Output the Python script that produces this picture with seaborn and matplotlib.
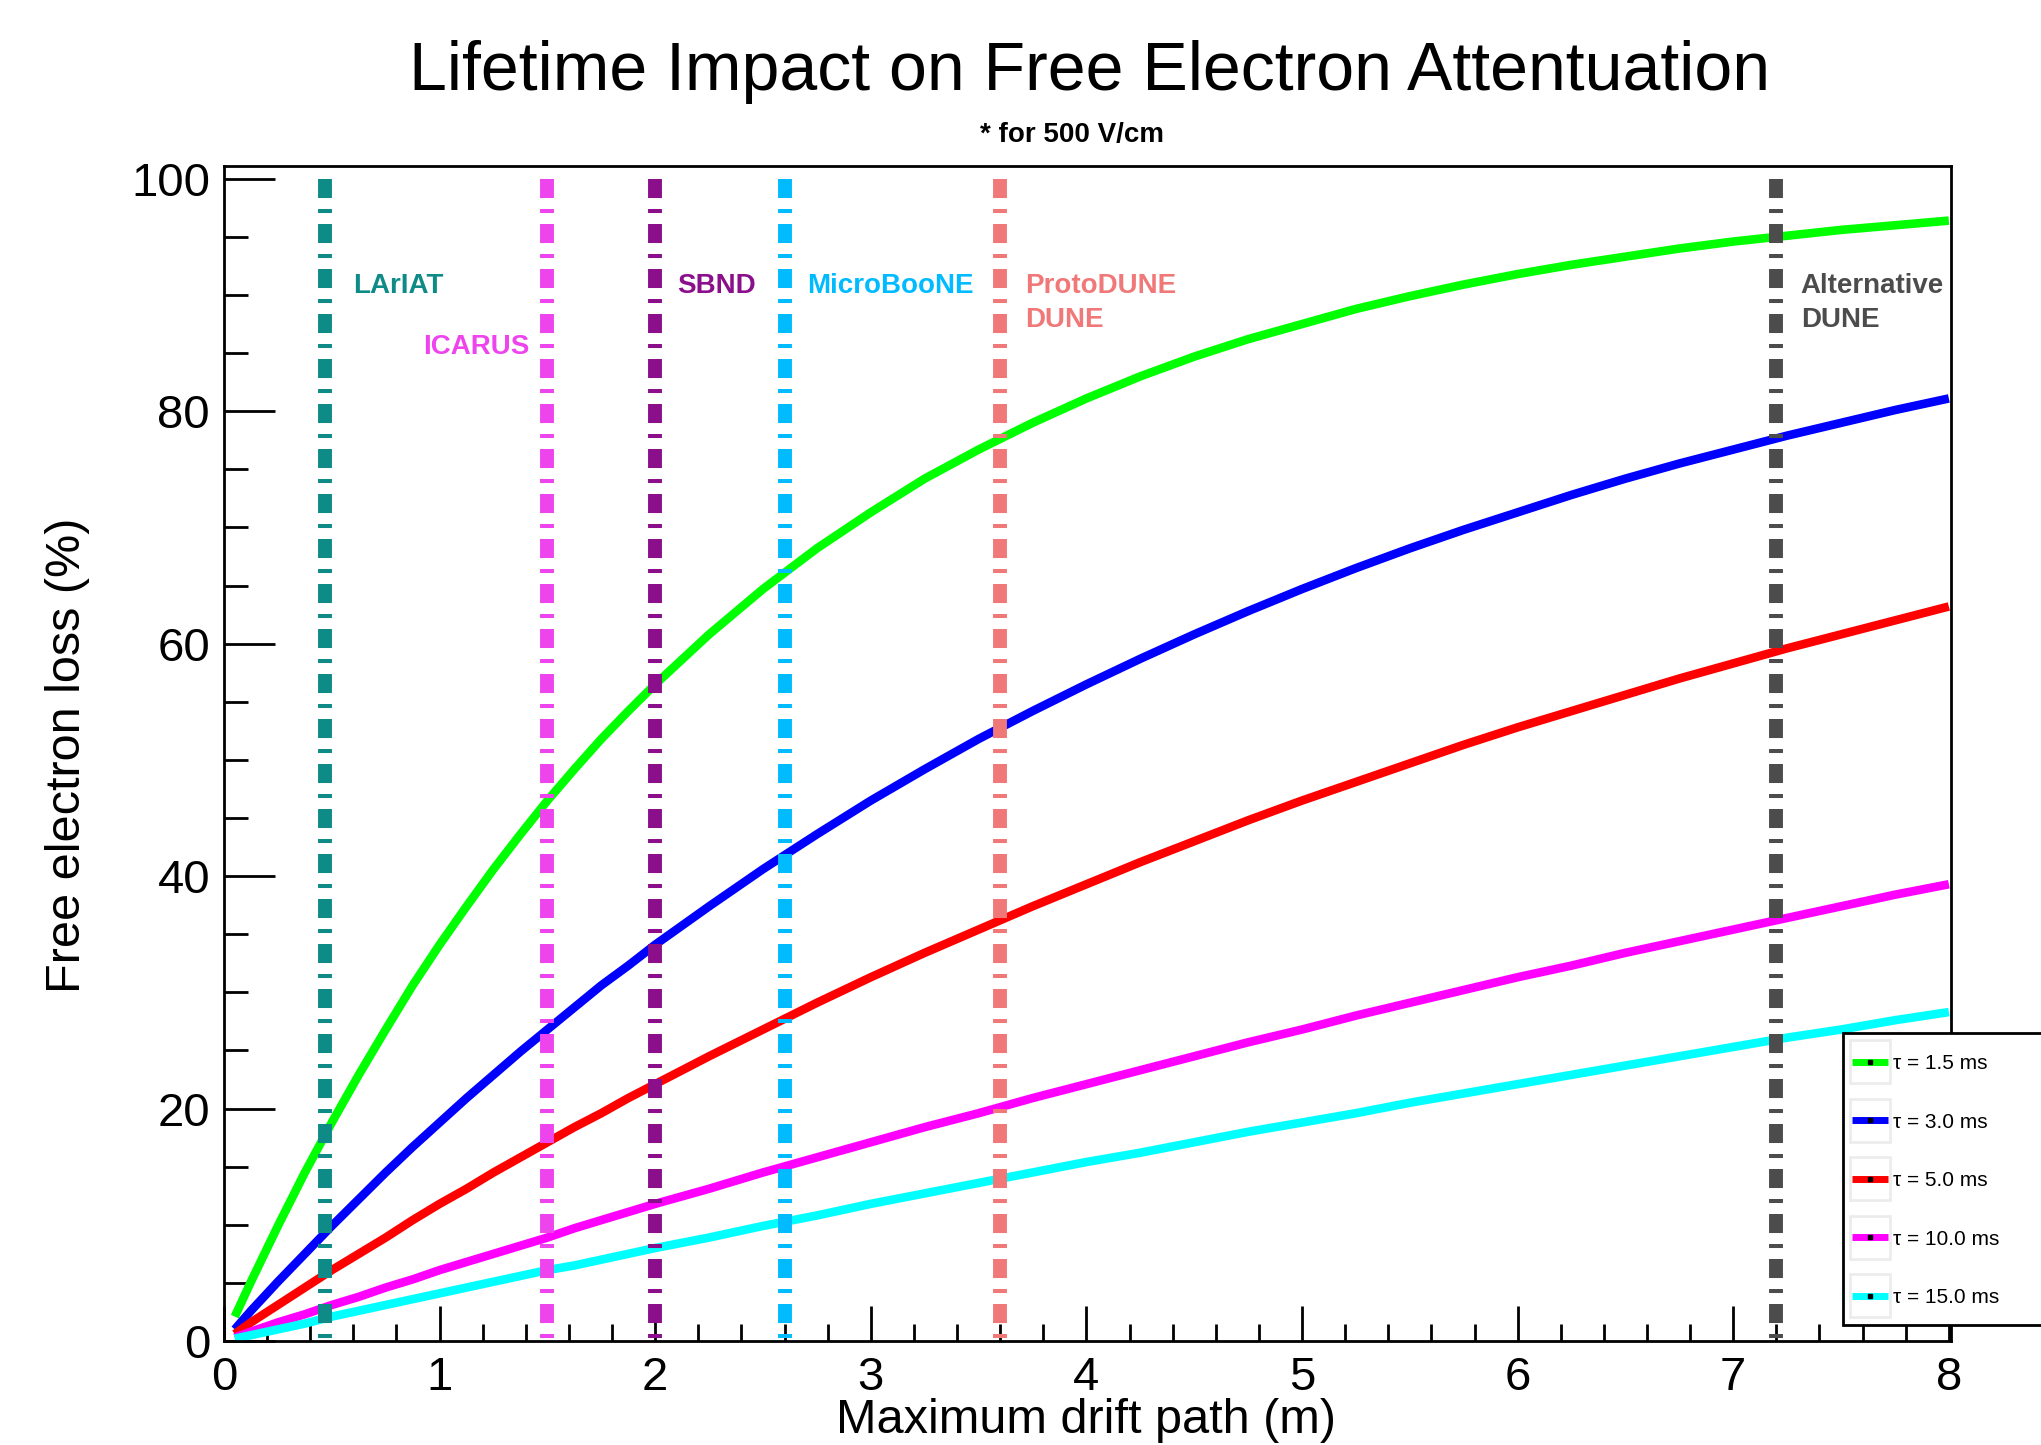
import numpy as np
import pandas as pd
import matplotlib
matplotlib.use("Agg")
import matplotlib.pyplot as plt
import seaborn as sns
from matplotlib.lines import Line2D
from matplotlib.patches import Rectangle
from matplotlib.ticker import MultipleLocator

# drift path (m) and free electron loss (%)
drift = [0.05, 0.125, 0.25, 0.375, 0.5, 0.625, 0.75, 0.875, 1.0, 1.125, 1.25,
         1.375, 1.5, 1.625, 1.75, 1.875, 2.0, 2.25, 2.5, 2.75,
         3.0, 3.25, 3.5, 3.75, 4.0, 4.25, 4.5, 4.75, 5.0, 5.25, 5.5, 5.75,
         6.0, 6.25, 6.5, 6.75, 7.0, 7.25, 7.5, 7.75, 8.0]
loss_1p5 = [2.1, 5.1, 9.9, 14.5, 18.8, 22.9, 26.8, 30.6, 34.1, 37.4, 40.6,
            43.6, 46.5, 49.2, 51.8, 54.2, 56.5, 60.8, 64.7, 68.2,
            71.3, 74.2, 76.7, 79.0, 81.1, 83.0, 84.7, 86.2, 87.5, 88.8, 89.9, 90.9,
            91.8, 92.6, 93.3, 94.0, 94.6, 95.1, 95.6, 96.0, 96.4]
loss_3p0 = [1.0, 2.6, 5.1, 7.5, 9.9, 12.2, 14.5, 16.7, 18.8, 20.9, 22.9,
            24.9, 26.8, 28.7, 30.6, 32.3, 34.1, 37.4, 40.6, 43.6,
            46.5, 49.2, 51.8, 54.2, 56.5, 58.7, 60.8, 62.8, 64.7, 66.5, 68.2, 69.8,
            71.3, 72.8, 74.2, 75.5, 76.7, 77.9, 79.0, 80.1, 81.1]
loss_5p0 = [0.6, 1.6, 3.1, 4.6, 6.1, 7.5, 8.9, 10.4, 11.8, 13.1, 14.5,
            15.8, 17.1, 18.4, 19.6, 20.9, 22.1, 24.5, 26.8, 29.1,
            31.3, 33.4, 35.4, 37.4, 39.3, 41.2, 43.0, 44.8, 46.5, 48.1, 49.7, 51.3,
            52.8, 54.2, 55.6, 57.0, 58.3, 59.6, 60.8, 62.0, 63.2]
loss_10p0 = [0.3, 0.8, 1.6, 2.3, 3.1, 3.8, 4.6, 5.3, 6.1, 6.8, 7.5,
             8.2, 8.9, 9.7, 10.4, 11.1, 11.8, 13.1, 14.5, 15.8,
             17.1, 18.4, 19.6, 20.9, 22.1, 23.3, 24.5, 25.7, 26.8, 28.0, 29.1, 30.2,
             31.3, 32.3, 33.4, 34.4, 35.4, 36.4, 37.4, 38.4, 39.3]
loss_15p0 = [0.2, 0.5, 1.0, 1.5, 2.1, 2.6, 3.1, 3.6, 4.1, 4.6, 5.1,
             5.6, 6.1, 6.5, 7.0, 7.5, 8.0, 8.9, 9.9, 10.8,
             11.8, 12.7, 13.6, 14.5, 15.4, 16.2, 17.1, 18.0, 18.8, 19.6, 20.5, 21.3,
             22.1, 22.9, 23.7, 24.5, 25.3, 26.1, 26.8, 27.6, 28.3]

tau_labels = ["τ = 1.5 ms", "τ = 3.0 ms", "τ = 5.0 ms", "τ = 10.0 ms", "τ = 15.0 ms"]
tau_colors = ["#00ff00", "#0000ff", "#ff0000", "#ff00ff", "#00ffff"]

# detector drift lengths (m)
detectors = ["LArIAT", "ICARUS", "SBND", "MicroBooNE", "ProtoDUNE", "Alternative"]
det_drift = [0.47, 1.5, 2.0, 2.6, 3.6, 7.2]
det_colors = ["#0e8a87", "#ee44ee", "#8b0e8b", "#00bbff", "#f07878", "#4c4c4c"]

df = pd.DataFrame({
    "drift": drift * 5,
    "loss": loss_1p5 + loss_3p0 + loss_5p0 + loss_10p0 + loss_15p0,
    "tau": sum([[t] * len(drift) for t in tau_labels], []),
})

sns.set_style("ticks")
plt.rcParams["font.family"] = ["Liberation Sans", "DejaVu Sans"]
plt.rcParams["lines.scale_dashes"] = False
plt.rcParams["text.color"] = "black"
plt.rcParams["xtick.color"] = "black"
plt.rcParams["ytick.color"] = "black"
plt.rcParams["xtick.labelcolor"] = "black"
plt.rcParams["ytick.labelcolor"] = "black"


class BoxLineHandler:
    # ROOT-style legend entry: light grey box with the line and a dot
    def legend_artist(self, legend, orig_handle, fontsize, handlebox):
        tr = handlebox.get_transform()
        w = handlebox.width
        bh = 31.0
        ym = 0.36 * fontsize
        x0 = -handlebox.xdescent
        rect = Rectangle((x0, ym - bh / 2), w, bh, facecolor="white",
                         edgecolor="#ececec", lw=2, transform=tr)
        ln = Line2D([x0 + 1.5, x0 + w - 1.5], [ym, ym], color=orig_handle.get_color(),
                    lw=5, solid_capstyle="butt", transform=tr)
        dot = Line2D([x0 + w / 2], [ym], marker="s", ms=2.2, color="black",
                     lw=0, transform=tr)
        for a in (rect, ln, dot):
            handlebox.add_artist(a)
        return ln


fig = plt.figure(figsize=(20.41, 14.45), dpi=100)
ax = fig.add_axes([224 / 2041, 1 - 1341 / 1445, (1951 - 224) / 2041, (1341 - 166) / 1445])

sns.lineplot(data=df, x="drift", y="loss", hue="tau", hue_order=tau_labels,
             palette=tau_colors, lw=6.2, legend=False, ax=ax, sort=False,
             estimator=None, zorder=2)
for line in ax.get_lines():
    line.set_solid_capstyle("butt")
    line.set_solid_joinstyle("round")

# vertical detector lines, dash-dot, drawn on top
for x, c in zip(det_drift, det_colors):
    ax.plot([x, x], [100, 0], color=c, lw=10, zorder=3,
            linestyle=(0, (13.7, 7.9, 2.9, 7.9)), dash_capstyle="butt")

# detector labels
label_pos = [
    ("LArIAT", 0.60, 90.75, det_colors[0]),
    ("ICARUS", 0.925, 85.55, det_colors[1]),
    ("SBND", 2.10, 90.75, det_colors[2]),
    ("MicroBooNE", 2.705, 90.75, det_colors[3]),
    ("ProtoDUNE", 3.715, 90.75, det_colors[4]),
    ("DUNE", 3.715, 87.85, det_colors[4]),
    ("Alternative", 7.313, 90.75, det_colors[5]),
    ("DUNE", 7.313, 87.85, det_colors[5]),
]
for txt, x, y, c in label_pos:
    ax.text(x, y, txt, color=c, fontsize=20, fontweight="bold",
            ha="left", va="center", zorder=4)

ax.set_xlim(0, 8.01)
ax.set_ylim(0, 101.1)
ax.xaxis.set_major_locator(MultipleLocator(1))
ax.xaxis.set_minor_locator(MultipleLocator(0.2))
ax.yaxis.set_major_locator(MultipleLocator(20))
ax.yaxis.set_minor_locator(MultipleLocator(5))
ax.tick_params(axis="both", which="both", direction="in", width=2, color="black",
               labelcolor="black", top=False, right=False)
ax.tick_params(axis="x", which="major", length=25, pad=11, labelsize=34)
ax.tick_params(axis="x", which="minor", length=12)
ax.tick_params(axis="y", which="major", length=37, pad=10, labelsize=34)
ax.tick_params(axis="y", which="minor", length=17)
ax.set_xlabel("")
ax.set_ylabel("")
for s in ax.spines.values():
    s.set_linewidth(2)
    s.set_color("black")

fig.text(0.534, 0.9375, "Lifetime Impact on Free Electron Attentuation",
         fontsize=49, ha="center", va="baseline", color="black")
fig.text(0.525, 0.9015, "* for 500 V/cm", fontsize=20, fontweight="bold",
         ha="center", va="baseline", color="black")
fig.text(0.532, 0.008, "Maximum drift path (m)", fontsize=35, ha="center",
         va="baseline", color="black")
fig.text(0.033, 0.4775, "Free electron loss (%)", fontsize=35, rotation=90,
         ha="center", va="center", color="black")

# legend box running off the right edge
fig.patches.append(Rectangle((1843 / 2041, 1 - 1325 / 1445), (2080 - 1843) / 2041,
                             (1325 - 1033) / 1445, transform=fig.transFigure,
                             facecolor="white", edgecolor="black", lw=2, zorder=4))
handles = [Line2D([], [], color=c) for c in tau_colors]
fig.legend(handles, tau_labels, handler_map={Line2D: BoxLineHandler()},
           loc="upper left", bbox_to_anchor=(1850 / 2041, 1 - 1046 / 1445),
           frameon=False, fontsize=15, handlelength=1.92, handleheight=2.07,
           handletextpad=0.15, labelspacing=1.22, borderpad=0, borderaxespad=0)

fig.savefig("out.png", dpi=100)
